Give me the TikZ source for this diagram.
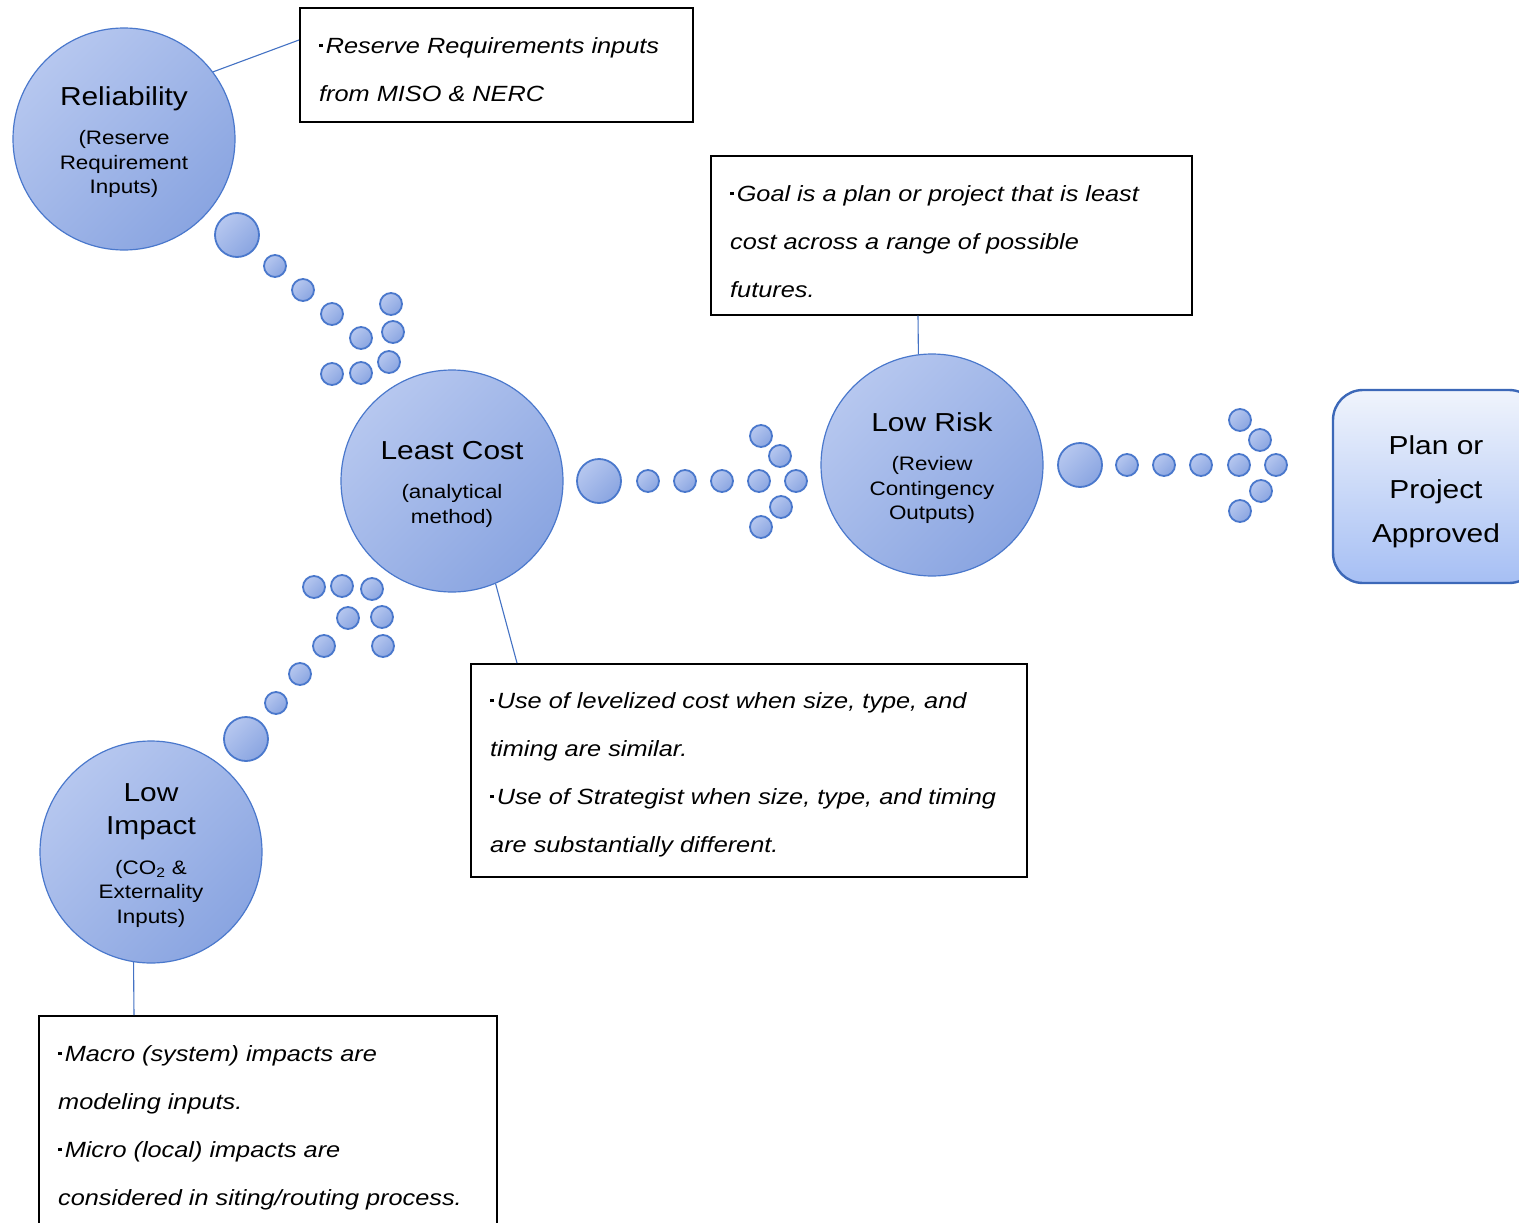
\documentclass[tikz,border=0pt]{standalone}
\usepackage{fontspec}
\setmainfont{Liberation Sans}[FakeStretch=1.15]
\usetikzlibrary{calc}

\definecolor{bubLight}{HTML}{B6C7EF}
\definecolor{bubDark}{HTML}{8AA5E1}
\definecolor{bubEdge}{HTML}{4A78CC}
\definecolor{lineBlue}{HTML}{4472C4}
\definecolor{planTop}{HTML}{F0F4FC}
\definecolor{planBot}{HTML}{A6BFF4}
\definecolor{planEdge}{HTML}{3C68B8}

\newcommand\sqbul{\rule[0.27em]{0.15em}{0.15em}\kern0.15em}
\newcommand\hfont{\fontsize{26}{33}\selectfont}
% extra head room so the text block sits a little lower in its shape
\newcommand\toproom[1]{\rule{0pt}{#1}}

\begin{document}
\begin{tikzpicture}[x=1pt,y=-1pt,
  bubble/.style={circle, draw=bubEdge, line width=1.2pt,
    top color=bubLight, bottom color=bubDark, shading angle=45,
    minimum size=222pt, inner sep=0pt, align=center,
    font=\fontsize{19.5}{24.5}\selectfont},
  dot/.style={draw=bubEdge, line width=1.8pt,
    top color=bubLight, bottom color=bubDark, shading angle=45},
  note/.style={draw=black, line width=1.6pt, rectangle, inner sep=0pt,
    anchor=north west},
  notetext/.style={anchor=north west, inner sep=0pt, align=left,
    font=\fontsize{22}{48}\selectfont\itshape},
  link/.style={draw=lineBlue, line width=1.1pt},
  planbox/.style={rectangle, rounded corners=30pt, draw=planEdge,
    line width=2.4pt, top color=planTop, bottom color=planBot,
    minimum width=206pt, minimum height=193pt, align=center,
    font=\fontsize{26}{44}\selectfont}]

\useasboundingbox (0,0) rectangle (1519,1223);
\fill[white] (0,0) rectangle (1519,1223);

\begin{scope}
\clip (0,0) rectangle (1519,1223);

% main bubbles
\node[bubble] (rel) at (124,139)
  {{\hfont\toproom{25pt}Reliability}\\[15pt](Reserve\\Requirement\\Inputs)};
\node[bubble] (lc) at (452,481)
  {{\hfont\toproom{25pt}Least Cost}\\[15pt](analytical\\method)};
\node[bubble] (lr) at (932,465)
  {{\hfont\toproom{25pt}Low Risk}\\[15pt](Review\\Contingency\\Outputs)};
\node[bubble] (li) at (151,852)
  {{\hfont\toproom{25pt}Low}\\[8.5pt]{\hfont Impact}\\[15pt](CO\textsubscript{2} \&\\Externality\\Inputs)};

% outcome box
\node[planbox] (plan) at (1436,486.5) {\toproom{29pt}Plan or\\Project\\Approved};

% dotted arrows made of bubbles
\foreach \x/\y in {237/235, 599/481, 1080/465, 246/739}
  \draw[dot] (\x,\y) circle (22pt);
\foreach \x/\y in {
  275/266, 303/290, 332/314, 361/338, 391/304, 393/332, 389/362, 361/373, 332/374,
  648/481, 685/481, 722/481, 759/481, 796/481, 761/436, 780/456, 781/507, 761/527,
  1127/465, 1164/465, 1201/465, 1239/465, 1276/465, 1240/420, 1260/440, 1261/491, 1240/511,
  276/703, 300/674, 324/646, 348/618, 314/587, 342/586, 372/589, 382/617, 383/646}
  \draw[dot] (\x,\y) circle (11pt);

% note boxes
\node[note, minimum width=393pt, minimum height=114pt] (box1) at (299,7) {};
\node[notetext] (t1) at (319,37)
  {\sqbul Reserve Requirements inputs\\from MISO \& NERC};

\node[note, minimum width=481pt, minimum height=159pt] (box2) at (710,155) {};
\node[notetext] (t2) at (730,185)
  {\sqbul Goal is a plan or project that is least\\cost across a range of possible\\futures.};

\node[note, minimum width=556pt, minimum height=213pt] (box3) at (470,663) {};
\node[notetext] (t3) at (490,692)
  {\sqbul Use of levelized cost when size, type, and\\timing are similar.\\\sqbul Use of Strategist when size, type, and timing\\are substantially different.};

\node[note, minimum width=458pt, minimum height=235pt] (box4) at (38,1015) {};
\node[notetext] (t4) at (58,1045)
  {\sqbul Macro (system) impacts are\\modeling inputs.\\\sqbul Micro (local) impacts are\\considered in siting/routing process.};

% callout connectors
\draw[link] (rel.37) -- ($(box1.north west)+(0,33)$);
\draw[link] (lc.-67) -- ($(box3.north west)+(47,0)$);
\draw[link] ($(box2.south west)+(208,0)$) -- (lr.97);
\draw[link] (li.-99) -- ($(box4.north west)+(96,0)$);
\end{scope}
\end{tikzpicture}
\end{document}
